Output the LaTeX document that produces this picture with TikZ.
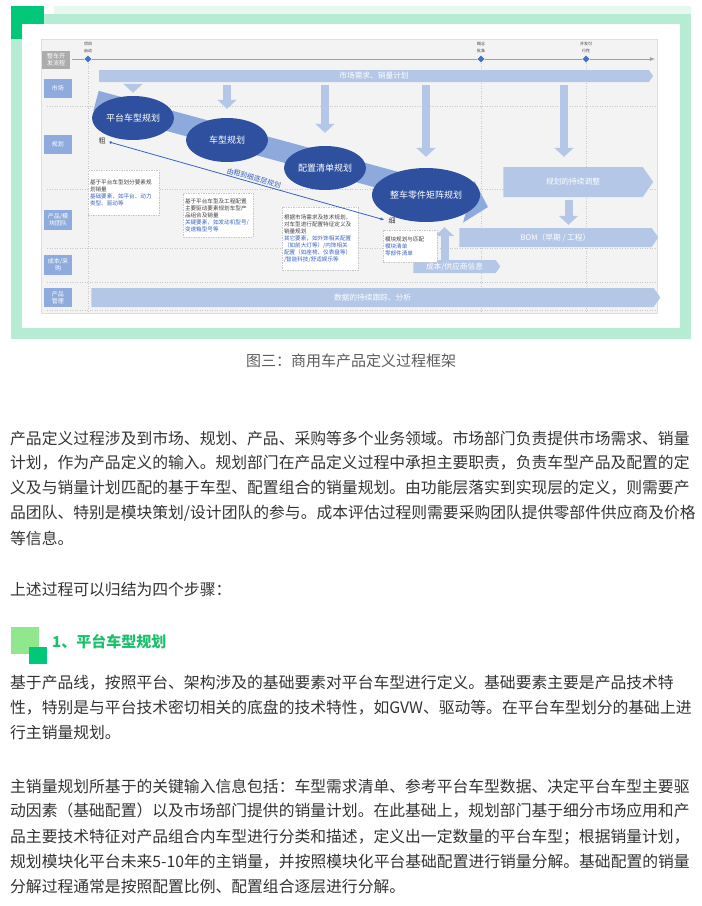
\documentclass[tikz,border=0pt]{standalone}
\usepackage{fontspec}
\setmainfont{Noto Sans CJK SC}
\usetikzlibrary{arrows.meta,shapes.geometric,shapes.symbols,positioning}
\XeTeXlinebreaklocale "zh"
\XeTeXlinebreakskip=0pt plus 2pt minus 1pt
\pgfdeclarelayer{back}
\pgfdeclarelayer{mid}
\pgfsetlayers{back,mid,main}
\definecolor{palegreen}{HTML}{E6F8EF}
\definecolor{framegreen}{HTML}{B6ECD4}
\definecolor{deepgreen}{HTML}{00C878}
\definecolor{lightgreen}{HTML}{90E78E}
\definecolor{headgreen}{HTML}{1CC06C}
\definecolor{diagbg}{HTML}{F3F3F3}
\definecolor{gridgray}{HTML}{C8C8C8}
\definecolor{lanebg}{HTML}{8FAADC}
\definecolor{barblue}{HTML}{B4C7E7}
\definecolor{bandblue}{HTML}{8EA9DB}
\definecolor{plandark}{HTML}{2E509E}
\definecolor{msblue}{HTML}{4472C4}
\definecolor{noteblue}{HTML}{3A62C0}
\definecolor{notetext}{HTML}{404040}
\definecolor{bodytext}{HTML}{333333}
\newcommand{\jline}[1]{\hbox to 683pt{#1}}
\tikzset{
  >=latex,
  lane/.style={fill=lanebg, text=white, minimum width=28, minimum height=19,
    inner sep=0pt, align=center, font=\fontsize{6}{7}\selectfont},
  plan/.style={ellipse, fill=plandark, text=white, minimum width=82,
    minimum height=44, inner sep=0pt, font=\fontsize{9}{10}\selectfont},
  bar/.style={signal, signal to=east, signal pointer angle=110, fill=barblue,
    text=white, inner sep=0pt, font=\fontsize{7.7}{8}\selectfont},
  note/.style={draw=gridgray, dash pattern=on 1.5pt off 1pt, fill=white,
    align=left, inner sep=2pt, text=notetext, font=\fontsize{5.6}{7}\selectfont},
  milestone/.style={diamond, fill=msblue, draw=white,
    minimum size=8, inner sep=0pt},
  mslabel/.style={align=center, inner sep=0pt, text=notetext,
    font=\fontsize{4}{6.5}\selectfont},
  grid/.style={draw=gridgray, dash pattern=on 1pt off 1.5pt},
  blockarrow/.style={draw=barblue, line width=8pt,
    -{Triangle[width=19pt,length=9pt]}},
  band/.style={draw=bandblue, line width=21pt,
    -{Triangle[width=42pt,length=20pt]}},
  flow/.style={draw=noteblue, line width=0.8pt,
    {Circle[length=2.5pt]}-{Latex[length=4pt,width=3pt]}},
  body/.style={anchor=west, inner sep=0pt, text=bodytext,
    font=\fontsize{15.8}{16}\selectfont},
}

\begin{document}
\begin{tikzpicture}[x=1pt,y=-1pt]
  \useasboundingbox (0,0) rectangle (702,906);
  \begin{pgfonlayer}{back}
    % frame round the figure
    \fill[palegreen] (54,6) rectangle (691,14);
    \fill[framegreen] (11,14) rectangle (691,339);
    \fill[deepgreen] (11,6) rectangle (44,39);
    \fill[white] (22,24) rectangle (680,328);
    \fill[diagbg, draw=gridgray!60] (41,39) rectangle (657,313);
    % swimlane separators
    \foreach \y in {106,189,248,282,310}
      \draw[grid] (47,\y) -- (655,\y);
  \end{pgfonlayer}

  % time line and milestones
  \coordinate (tstart) at (72,59);
  \coordinate (tend) at (655,59);
  \coordinate (bottom) at (0,312);
  \draw[gridgray!80!black, line width=0.8pt, ->] (tstart) -- (tend);
  \node[fill=gray!65, text=white, minimum width=28, minimum height=18,
    inner sep=0pt, align=center, font=\fontsize{6}{7}\selectfont]
    (process) at (56,59.5) {整车开\\发流程};
  \node[milestone] (m1) at (88,59) {};
  \node[milestone] (m2) at (481,59) {};
  \node[milestone] (m3) at (586,59) {};
  \node[mslabel, above=2pt of m1] {项目\\启动};
  \node[mslabel, above=2pt of m2] {概念\\批准};
  \node[mslabel, above=2pt of m3] {开发可\\行性};
  \begin{pgfonlayer}{back}
    \foreach \m in {m1,m2,m3}
      \draw[grid] (\m.south) -- (\m |- bottom);
  \end{pgfonlayer}

  % lanes
  \node[lane] (lmkt) at (58,88.5) {市场};
  \node[lane] (lplan) at (58,144.5) {规划};
  \node[lane, minimum height=20] (lprod) at (58,220) {产品/模\\块团队};
  \node[lane, minimum height=20] (lcost) at (58,265) {成本/采\\购};
  \node[lane] (lmgmt) at (58,297.5) {产品\\管理};

  % bars
  \node[bar, minimum width=554, minimum height=12] (mkt) at (374,76) {市场需求、销量计划};
  \node[bar, minimum width=150, minimum height=30] (adj) at (573,182) {规划的持续调整};
  \node[bar, minimum width=199, minimum height=19] (bom) at (555.5,237.5) {BOM（早期 / 工程）};
  \node[bar, minimum width=87, minimum height=13] (cost) at (454.5,266.5) {成本/供应商信息};
  \node[bar, minimum width=569, minimum height=19] (data) at (372.5,297.5) {数据的持续跟踪、分析};

  % planning steps
  \coordinate (bandfrom) at (96,101);
  \coordinate (bandto) at (488,207);
  \begin{pgfonlayer}{mid}
    \draw[band] (bandfrom) -- (bandto);
  \end{pgfonlayer}
  \node[plan] (e1) at (133,118) {平台车型规划};
  \node[plan] (e2) at (227,140) {车型规划};
  \node[plan] (e3) at (325,168) {配置清单规划};
  \node[plan, minimum width=108, minimum height=54] (e4) at (426,195) {整车零件矩阵规划};

  % inputs
  \coordinate (adjin) at ([xshift=-9pt]adj.north);
  \coordinate (bomin) at ([xshift=13pt]bom.north);
  \coordinate (upfrom) at ([xshift=-10pt]cost.north);
  \begin{pgfonlayer}{mid}
    \draw[blockarrow, shorten <=3pt, shorten >=3pt] (mkt.south -| e1.north) -- (e1.north);
    \draw[blockarrow, shorten <=3pt, shorten >=9pt] (mkt.south -| e2.north) -- (e2.north);
    \draw[blockarrow, shorten <=3pt, shorten >=13pt] (mkt.south -| e3.north) -- (e3.north);
    \draw[blockarrow, shorten <=3pt, shorten >=11pt] (mkt.south -| e4.north) -- (e4.north);
    \draw[blockarrow, shorten <=3pt, shorten >=10pt] (mkt.south -| adjin) -- (adjin);
    \draw[blockarrow, shorten <=3pt, shorten >=3pt] (adj.south -| bomin) -- (bomin);
    \draw[blockarrow, shorten >=5pt] (upfrom) -- (upfrom |- e4.south);
  \end{pgfonlayer}

  % notes
  \node[note, text width=67, minimum height=45] (n1) at (123.5,192.5)
    {基于平台车型划分要素规\\划销量\\\color{noteblue}基础要素，如平台、动力\\类型、驱动等};
  \node[note, text width=66, minimum height=44] (n2) at (218,215)
    {基于平台车型及工程配置\\主要驱动要素规划车型产\\品组合及销量\\\color{noteblue}关键要素，如发动机型号/\\变速箱型号等};
  \node[note, text width=72, minimum height=63] (n3) at (320,238.5)
    {根据市场需求及技术规划，\\对车型进行配置特征定义及\\销量规划\\\color{noteblue}其它要素，如外饰相关配置\\（如前大灯等）/内饰相关\\配置（如座椅、仪表盘等）\\/智能科技/舒适娱乐等};
  \node[note, text width=50, minimum height=32] (n4) at (410,246)
    {模块规划与匹配\\\color{noteblue}模块清单\\零部件清单};

  % coarse to fine
  \node[text=notetext, inner sep=0pt, font=\fontsize{7}{8}\selectfont] (cu) at (102,141) {粗};
  \node[text=notetext, inner sep=0pt, font=\fontsize{7}{8}\selectfont] (xi) at (392,221) {细};
  \draw[flow, shorten <=4pt, shorten >=4pt] (cu.east) -- (xi.west)
    node[sloped, above=1pt, pos=0.52, text=noteblue, inner sep=0pt,
      font=\fontsize{7}{8}\selectfont] {由粗到细逐层规划};

  % caption and article text
  \node[text=bodytext!80, font=\fontsize{15}{16}\selectfont] (cap) at (351,361)
    {图三：商用车产品定义过程框架};
  \node[body] (p1a) at (10,438) {\jline{产品定义过程涉及到市场、规划、产品、采购等多个业务领域。市场部门负责提供市场需求、销量}};
  \node[body] (p1b) at (10,463) {\jline{计划，作为产品定义的输入。规划部门在产品定义过程中承担主要职责，负责车型产品及配置的定}};
  \node[body] (p1c) at (10,488) {\jline{义及与销量计划匹配的基于车型、配置组合的销量规划。由功能层落实到实现层的定义，则需要产}};
  \node[body] (p1d) at (10,513) {\jline{品团队、特别是模块策划/设计团队的参与。成本评估过程则需要采购团队提供零部件供应商及价格}};
  \node[body] (p1e) at (10,538) {等信息。};
  \node[body] (p2) at (10,590) {上述过程可以归结为四个步骤：};

  \fill[lightgreen] (11,627) rectangle (39,654);
  \fill[deepgreen] (29,647) rectangle (47,664);
  \node[body, text=headgreen, font=\fontsize{15}{16}\selectfont\bfseries] (h1) at (52,642) {1、平台车型规划};

  \node[body] (p3a) at (10,683) {\jline{基于产品线，按照平台、架构涉及的基础要素对平台车型进行定义。基础要素主要是产品技术特}};
  \node[body] (p3b) at (10,708) {\jline{性，特别是与平台技术密切相关的底盘的技术特性，如GVW、驱动等。在平台车型划分的基础上进}};
  \node[body] (p3c) at (10,733) {行主销量规划。};
  \node[body] (p4a) at (10,786) {\jline{主销量规划所基于的关键输入信息包括：车型需求清单、参考平台车型数据、决定平台车型主要驱}};
  \node[body] (p4b) at (10,811) {\jline{动因素（基础配置）以及市场部门提供的销量计划。在此基础上，规划部门基于细分市场应用和产}};
  \node[body] (p4c) at (10,837) {\jline{品主要技术特征对产品组合内车型进行分类和描述，定义出一定数量的平台车型；根据销量计划，}};
  \node[body] (p4d) at (10,862) {\jline{规划模块化平台未来5-10年的主销量，并按照模块化平台基础配置进行销量分解。基础配置的销量}};
  \node[body] (p4e) at (10,887) {分解过程通常是按照配置比例、配置组合逐层进行分解。};
\end{tikzpicture}
\end{document}
